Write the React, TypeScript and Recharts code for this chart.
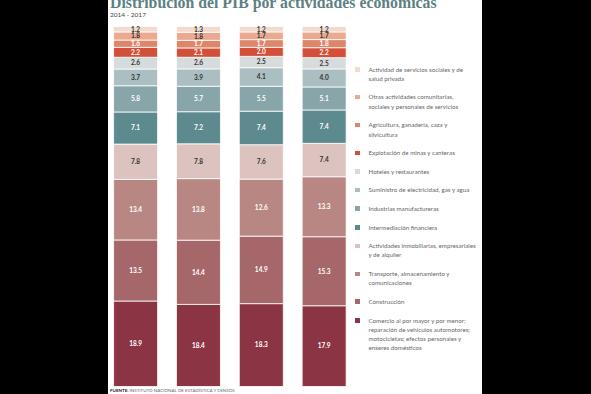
import { BarChart, Bar, XAxis, YAxis, LabelList } from 'recharts';

const years = ['2014', '2015', '2016', '2017'];

// valores en % del PIB, de abajo hacia arriba en cada barra
const comercio = [18.9, 18.4, 18.3, 17.9];
const construccion = [13.5, 14.4, 14.9, 15.3];
const transporte = [13.4, 13.8, 12.6, 13.3];
const inmobiliarias = [7.8, 7.8, 7.6, 7.4];
const intermediacion = [7.1, 7.2, 7.4, 7.4];
const industrias = [5.8, 5.7, 5.5, 5.1];
const suministro = [3.7, 3.9, 4.1, 4.0];
const hoteles = [2.6, 2.6, 2.5, 2.5];
const explotacion = [2.2, 2.1, 2.0, 2.2];
const agricultura = [1.6, 1.7, 1.7, 1.8];
const otras = [1.8, 1.8, 1.7, 1.7];
const salud = [1.2, 1.3, 1.2, 1.2];

const series = [
  { key: 'comercio', values: comercio, color: '#8b3444', text: '#fff', name: 'Comercio al por mayor y por menor;\nreparación de vehículos automotores;\nmotocicletas; efectos personales y\nenseres domésticos' },
  { key: 'construccion', values: construccion, color: '#a6676a', text: '#fff', name: 'Construcción' },
  { key: 'transporte', values: transporte, color: '#b98783', text: '#fff', name: 'Transporte, almacenamiento y\ncomunicaciones' },
  { key: 'inmobiliarias', values: inmobiliarias, color: '#dcc3bf', text: '#333', name: 'Actividades inmobiliarias, empresariales\ny de alquiler' },
  { key: 'intermediacion', values: intermediacion, color: '#5c8a8e', text: '#fff', name: 'Intermediación financiera' },
  { key: 'industrias', values: industrias, color: '#88a5a9', text: '#fff', name: 'Industrias manufactureras' },
  { key: 'suministro', values: suministro, color: '#abbec1', text: '#333', name: 'Suministro de electricidad, gas y agua' },
  { key: 'hoteles', values: hoteles, color: '#d6dbdc', text: '#333', name: 'Hoteles y restaurantes' },
  { key: 'explotacion', values: explotacion, color: '#d2503a', text: '#fff', name: 'Explotación de minas y canteras' },
  { key: 'agricultura', values: agricultura, color: '#de8669', text: '#fff', name: 'Agricultura, ganadería, caza y\nsilvicultura' },
  { key: 'otras', values: otras, color: '#eba98f', text: '#333', name: 'Otras actividades comunitarias,\nsociales y personales de servicios' },
  { key: 'salud', values: salud, color: '#f3dacd', text: '#333', name: 'Actividad de servicios sociales y de\nsalud privada' },
];

const data = years.map((year, i) => {
  const row: any = { year };
  series.forEach((s) => { row[s.key] = s.values[i]; });
  return row;
});

const SideLegend = () => (
  <div style={{ position: 'absolute', left: 355, top: 64.5, width: 125 }}>
    {[...series].reverse().map((s) => (
      <div key={s.key} style={{ display: 'flex', alignItems: 'flex-start', marginBottom: 9.3 }}>
        <div style={{ width: 4.5, height: 4.5, background: s.color, marginTop: 2.5, marginRight: 9, flexShrink: 0 }} />
        <div style={{ whiteSpace: 'pre', lineHeight: '9.3px', fontSize: 6.2, color: '#666' }}>{s.name}</div>
      </div>
    ))}
  </div>
);

export default function App() {
  return (
    <div style={{ position: 'absolute', left: 0, top: 0, width: 591, height: 394, background: '#fff', overflow: 'hidden', fontFamily: 'Lato, sans-serif' }}>
      <div style={{ position: 'absolute', left: 110, top: -6, fontFamily: '"Liberation Serif", serif', fontWeight: 'bold', fontSize: 15.8, color: '#5d8183', whiteSpace: 'nowrap' }}>
        Distribución del PIB por actividades económicas
      </div>
      <div style={{ position: 'absolute', left: 110, top: 11, fontSize: 6.5, color: '#444' }}>2014 - 2017</div>

      <BarChart
        width={591}
        height={394}
        data={data}
        stackOffset="expand"
        barSize={44}
        margin={{ top: 26.5, right: 235, left: 104.6, bottom: 7.5 }}
        style={{ position: 'absolute', left: 0, top: 0 }}
      >
        <XAxis dataKey="year" hide />
        <YAxis hide domain={[0, 1]} />
        {series.map((s) => (
          <Bar key={s.key} dataKey={s.key} stackId="pib" fill={s.color} stroke="#fff" strokeWidth={0.8} isAnimationActive={false} name={s.name}>
            <LabelList
              dataKey={s.key}
              position="center"
              fill={s.text}
              fontSize={6.5}
              fontWeight="bold"
              fontFamily="Lato, sans-serif"
              formatter={(v: any) => Number(v).toFixed(1)}
            />
          </Bar>
        ))}
      </BarChart>

      <SideLegend />

      <div style={{ position: 'absolute', left: 110, top: 388, fontSize: 4.5, color: '#666', whiteSpace: 'nowrap' }}>
        <b style={{ color: '#222' }}>FUENTE:</b> INSTITUTO NACIONAL DE ESTADÍSTICA Y CENSOS
      </div>

      <div style={{ position: 'absolute', left: 0, top: 0, width: 108, height: 394, background: '#000' }} />
      <div style={{ position: 'absolute', left: 482, top: 0, width: 109, height: 394, background: '#000' }} />
    </div>
  );
}
